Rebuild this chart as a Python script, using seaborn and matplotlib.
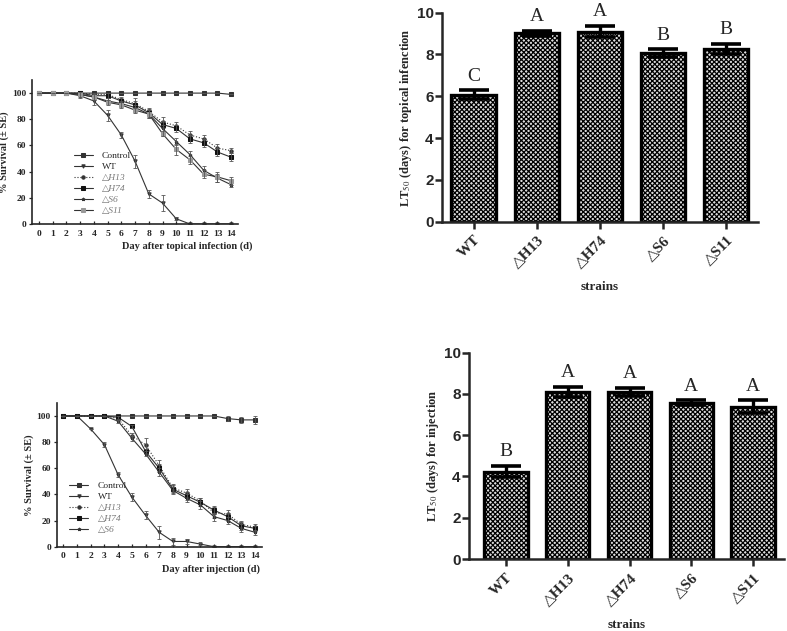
import numpy as np
import pandas as pd
import matplotlib
matplotlib.use("Agg")
import matplotlib.pyplot as plt
import seaborn as sns

# -----------------------------
# Data
# -----------------------------
days = [0, 1, 2, 3, 4, 5, 6, 7, 8, 9, 10, 11, 12, 13, 14]

# survival after topical infection (%)
control_t = [100, 100, 100, 100, 100, 100, 100, 100, 100, 100, 100, 100, 100, 100, 99]
control_t_se = [0, 0, 0, 0, 0, 0, 0, 0, 0, 0, 0, 0, 0, 0, 0]
wt_t = [100, 100, 100, 98, 94, 83, 68, 48, 23, 16, 4, 0, 0, 0, 0]
wt_t_se = [0, 0, 0, 2, 3, 4, 2, 5, 3, 6, 1, 0, 0, 0, 0]
h13_t = [100, 100, 100, 100, 99, 99, 95, 92, 86, 78, 75, 68, 65, 58, 56]
h13_t_se = [0, 0, 0, 0, 1, 1, 2, 4, 3, 4, 3, 3, 3, 3, 2]
h74_t = [100, 100, 100, 100, 98, 98, 94, 91, 85, 76, 73, 65, 62, 55, 51]
h74_t_se = [0, 0, 0, 1, 1, 2, 2, 3, 3, 3, 3, 3, 3, 3, 3]
s6_t = [100, 100, 100, 99, 97, 94, 92, 89, 84, 73, 63, 53, 41, 35, 30]
s6_t_se = [0, 0, 0, 1, 1, 2, 2, 2, 3, 3, 3, 3, 3, 3, 2]
s11_t = [100, 100, 100, 99, 97, 93, 91, 87, 84, 69, 57, 49, 38, 36, 33]
s11_t_se = [0, 0, 0, 2, 2, 2, 2, 2, 3, 2, 4, 3, 3, 4, 3]

# survival after injection (%)
control_i = [100, 100, 100, 100, 100, 100, 100, 100, 100, 100, 100, 100, 98, 97, 97]
control_i_se = [0, 0, 0, 0, 0, 0, 0, 0, 0, 0, 0, 0, 2, 2, 3]
wt_i = [100, 100, 90, 78, 55, 38, 24, 11, 4, 4, 2, 0, 0, 0, 0]
wt_i_se = [0, 0, 0, 2, 2, 3, 3, 5, 3, 2, 1, 0, 0, 0, 0]
h13_i = [100, 100, 100, 100, 98, 85, 78, 62, 45, 41, 35, 26, 25, 17, 15]
h13_i_se = [0, 0, 0, 0, 1, 2, 5, 4, 3, 3, 2, 4, 3, 3, 2]
h74_i = [100, 100, 100, 100, 99, 92, 73, 60, 44, 39, 34, 28, 23, 16, 14]
h74_i_se = [0, 0, 0, 0, 1, 1, 2, 3, 3, 3, 3, 3, 3, 3, 2]
s6_i = [100, 100, 100, 100, 96, 83, 71, 57, 43, 37, 32, 23, 20, 14, 11]
s6_i_se = [0, 0, 0, 0, 1, 2, 2, 3, 3, 3, 3, 3, 3, 3, 2]

# LT50 bars
strains = ["WT", "△H13", "△H74", "△S6", "△S11"]
lt50_topical = [6.08, 9.01, 9.09, 8.06, 8.26]
lt50_topical_se = [0.20, 0.12, 0.27, 0.18, 0.24]
letters_topical = ["C", "A", "A", "B", "B"]
lt50_inj = [4.24, 8.11, 8.11, 7.58, 7.39]
lt50_inj_se = [0.27, 0.24, 0.20, 0.12, 0.30]
letters_inj = ["B", "A", "A", "A", "A"]

SERIF = ["Liberation Serif", "DejaVu Serif"]
SANS = ["Liberation Sans", "DejaVu Sans"]

sns.set_style("ticks")
plt.rcParams["font.family"] = SERIF
plt.rcParams["mathtext.fontset"] = "stix"
plt.rcParams["hatch.linewidth"] = 0.9
plt.rcParams["hatch.color"] = "#333333"

fig = plt.figure(figsize=(7.87, 6.31), dpi=100)

LINE_COL = "#333333"
styles = [
    # label, marker, linestyle, markerfacecolor
    ("Control", "s", "-", LINE_COL),
    ("WT", "v", "-", LINE_COL),
    ("△H13", "o", ":", LINE_COL),
    ("△H74", "s", "-", "#111111"),
    ("△S6", "*", "-", LINE_COL),
    ("△S11", "s", "-", "#999999"),
]


def plot_survival(ax, series, xlabel, legend_anchor, xlabel_x):
    for (lab, mk, ls, mfc), (vals, se) in zip(styles, series):
        sns.lineplot(x=days, y=vals, ax=ax, color=LINE_COL, marker=mk,
                     linestyle=ls, linewidth=0.8, markersize=2.4,
                     markerfacecolor=mfc, markeredgecolor=mfc,
                     label=lab, errorbar=None)
        ax.errorbar(days, vals, yerr=se, fmt="none", ecolor="#555555",
                    elinewidth=0.6, capsize=1.6, capthick=0.6)
    ax.set_xlim(-0.5, 14.5)
    ax.set_ylim(0, 110)
    ax.set_xticks(days)
    ax.set_yticks([0, 20, 40, 60, 80, 100])
    ax.tick_params(axis="x", direction="in", length=2.5, width=0.9,
                   labelsize=6.8, pad=4)
    ax.tick_params(axis="y", direction="out", length=2, width=0.9,
                   labelsize=6.8, pad=2)
    for t in ax.get_xticklabels() + ax.get_yticklabels():
        t.set_fontweight("bold")
    sns.despine(ax=ax)
    for s in ["left", "bottom"]:
        ax.spines[s].set_linewidth(1.2)
    ax.set_ylabel("% Survival (± SE)", fontsize=7.5, fontweight="bold",
                  labelpad=2)
    ax.set_xlabel(xlabel, fontsize=7.5, fontweight="bold")
    ax.xaxis.set_label_coords(xlabel_x, -0.12)
    ax.xaxis.label.set_horizontalalignment("right")
    leg = ax.legend(loc="upper left", bbox_to_anchor=legend_anchor,
                    frameon=False, fontsize=6.8, handlelength=2.0,
                    labelspacing=0.25, borderpad=0.2, handletextpad=1.0)
    for t in leg.get_texts():
        if t.get_text().startswith("△"):
            t.set_fontstyle("italic")
            t.set_color("#777777")


# top-left: topical infection survival
ax1 = fig.add_axes([0.0407, 0.645, 0.2618, 0.2282])
plot_survival(
    ax1,
    [(control_t, control_t_se), (wt_t, wt_t_se), (h13_t, h13_t_se),
     (h74_t, h74_t_se), (s6_t, s6_t_se), (s11_t, s11_t_se)],
    "Day after topical infection (d)", (0.17, 0.55), 1.068)

# bottom-left: injection survival
ax3 = fig.add_axes([0.0718, 0.1336, 0.261, 0.2279])
plot_survival(
    ax3,
    [(control_i, control_i_se), (wt_i, wt_i_se), (h13_i, h13_i_se),
     (h74_i, h74_i_se), (s6_i, s6_i_se)],
    "Day after injection (d)", (0.03, 0.50), 0.99)


def plot_lt50(ax, vals, se, letters, ylabel, xlim):
    df = pd.DataFrame({"strain": strains, "lt50": vals})
    sns.barplot(data=df, x="strain", y="lt50", ax=ax, color="white",
                width=0.7, edgecolor="black", linewidth=2.4,
                errorbar=None, zorder=2)
    for p in ax.patches:
        p.set_hatch("xxxxxxx")
        p.set_facecolor("#dedede")
    ax.errorbar(range(len(vals)), vals, yerr=se, fmt="none",
                ecolor="black", elinewidth=2.4, capsize=11, capthick=2.6,
                zorder=3)
    for i, (v, e, lt) in enumerate(zip(vals, se, letters)):
        ax.text(i, v + e + 0.68, lt, ha="center", va="center",
                fontsize=14, family=SERIF, clip_on=False)
    ax.set_xlim(*xlim)
    ax.set_ylim(0, 10)
    ax.set_yticks([0, 2, 4, 6, 8, 10])
    sns.despine(ax=ax)
    for s in ["left", "bottom"]:
        ax.spines[s].set_linewidth(1.8)
    ax.tick_params(axis="both", direction="out", length=5, width=1.8)
    ax.tick_params(axis="y", labelsize=11, pad=1)
    for t in ax.get_yticklabels():
        t.set_family(SANS)
        t.set_fontweight("bold")
    ax.set_xticks(range(len(strains)))
    ax.set_xticklabels(strains, rotation=45, ha="right",
                       rotation_mode="anchor", fontsize=11,
                       fontweight="bold", family=SERIF)
    ax.set_xlabel("strains", fontsize=9.5, fontweight="bold", labelpad=8)
    ax.set_ylabel(ylabel, fontsize=9, fontweight="bold", labelpad=2)


# top-right: LT50 topical
ax2 = fig.add_axes([0.5616, 0.6487, 0.4015, 0.3312])
plot_lt50(ax2, lt50_topical, lt50_topical_se, letters_topical,
          r"LT$_{50}$ (days) for topical infenction", (-0.5, 4.5))

# bottom-right: LT50 injection
ax4 = fig.add_axes([0.596, 0.1141, 0.400, 0.327])
plot_lt50(ax4, lt50_inj, lt50_inj_se, letters_inj,
          r"LT$_{50}$ (days) for injection", (-0.6, 4.5))

fig.savefig("out.png", dpi=100)
